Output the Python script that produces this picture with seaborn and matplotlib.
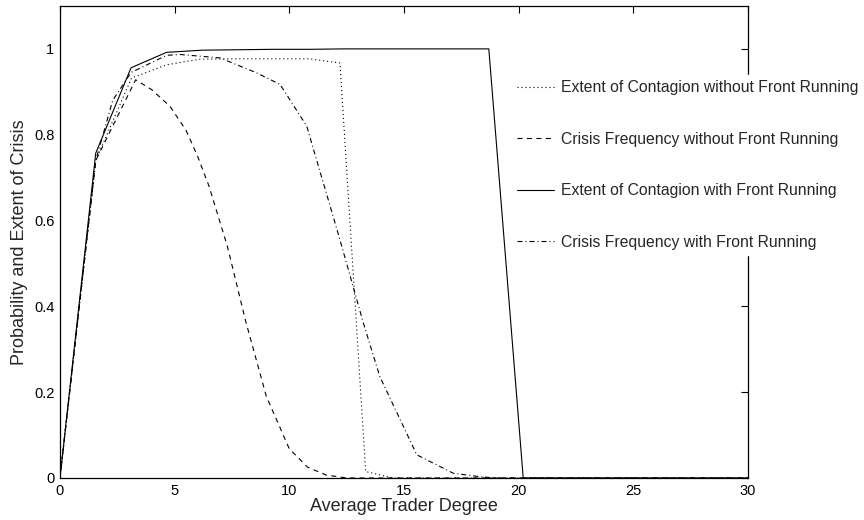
import pandas as pd
import matplotlib
matplotlib.use("Agg")
import matplotlib.pyplot as plt
import seaborn as sns

# Series
labels = [
    "Extent of Contagion without Front Running",
    "Crisis Frequency without Front Running",
    "Extent of Contagion with Front Running",
    "Crisis Frequency with Front Running",
]

x_ext_no = [0, 1.56, 3.12, 4.65, 6.1, 7.75, 9.3, 10.85, 12.21, 13.33, 14.5, 30]
y_ext_no = [0, 0.74, 0.932, 0.963, 0.976, 0.977, 0.977, 0.977, 0.967, 0.015, 0, 0]

x_cri_no = [0, 1.56, 3.3, 4.0, 4.8, 5.5, 6.0, 6.5, 7.3, 8.1, 9.0, 10.0, 10.8, 11.6, 12.5, 30]
y_cri_no = [0, 0.74, 0.928, 0.905, 0.866, 0.81, 0.75, 0.68, 0.54, 0.365, 0.19, 0.068, 0.025, 0.007, 0, 0]

x_ext_fr = [0, 1.56, 3.10, 4.65, 6.2, 7.75, 9.3, 10.85, 12.4, 13.95, 15.5, 17.05, 18.7, 20.2, 30]
y_ext_fr = [0, 0.757, 0.956, 0.992, 0.997, 0.998, 0.999, 0.999, 1.0, 1.0, 1.0, 1.0, 1.0, 0, 0]

x_cri_fr = [0, 1.56, 2.3, 3.1, 4.65, 5.23, 6.98, 8.58, 9.6, 10.76, 12.21, 13.23, 13.95, 15.56, 17.15, 18.3, 19.0, 30]
y_cri_fr = [0, 0.74, 0.88, 0.945, 0.985, 0.987, 0.979, 0.944, 0.917, 0.82, 0.555, 0.361, 0.236, 0.054, 0.011, 0.003, 0, 0]

frames = []
for name, xs, ys in zip(labels,
                        [x_ext_no, x_cri_no, x_ext_fr, x_cri_fr],
                        [y_ext_no, y_cri_no, y_ext_fr, y_cri_fr]):
    frames.append(pd.DataFrame({"degree": xs, "value": ys, "series": name}))
df = pd.concat(frames, ignore_index=True)

sns.set_style("white")
plt.rcParams["font.family"] = ["Liberation Sans", "DejaVu Sans"]

fig = plt.figure(figsize=(8.64, 5.2), dpi=100)
ax = fig.add_axes([0.0694, 0.0808, 0.7963, 0.9077])

line_dashes = {
    labels[0]: (1, 2.6),
    labels[1]: (4.5, 4),
    labels[2]: "",
    labels[3]: (4.5, 2.7, 0.9, 2.7),
}
sns.lineplot(data=df, x="degree", y="value", hue="series", style="series",
             hue_order=labels, style_order=labels,
             palette=["black"] * 4, dashes=line_dashes,
             estimator=None, sort=False, linewidth=0.8, ax=ax)

ax.set_xlim(0, 30)
ax.set_ylim(0, 1.1)
ax.set_xticks([0, 5, 10, 15, 20, 25, 30])
ax.set_yticks([0, 0.2, 0.4, 0.6, 0.8, 1])
ax.set_yticklabels(["0", "0.2", "0.4", "0.6", "0.8", "1"])
ax.tick_params(direction="in", length=5, width=0.8, top=True, right=True,
               labelsize=10.5, pad=4, colors="black")
for s in ax.spines.values():
    s.set_visible(True)
    s.set_color("black")
    s.set_linewidth(0.9)

ax.set_xlabel("Average Trader Degree", fontsize=13, labelpad=0)
ax.set_ylabel("Probability and Extent of Crisis", fontsize=13, labelpad=4)

handles, _ = ax.get_legend_handles_labels()
leg = ax.legend(handles[-4:], labels, loc="upper left",
                bbox_to_anchor=(0.5926, 0.856), bbox_transform=fig.transFigure,
                fontsize=11.3, frameon=True, fancybox=False, framealpha=1,
                facecolor="white", edgecolor="white", borderaxespad=0,
                borderpad=0.35, labelspacing=2.32, handlelength=2.3,
                handletextpad=0.5)

fig.savefig("out.png", dpi=100)
